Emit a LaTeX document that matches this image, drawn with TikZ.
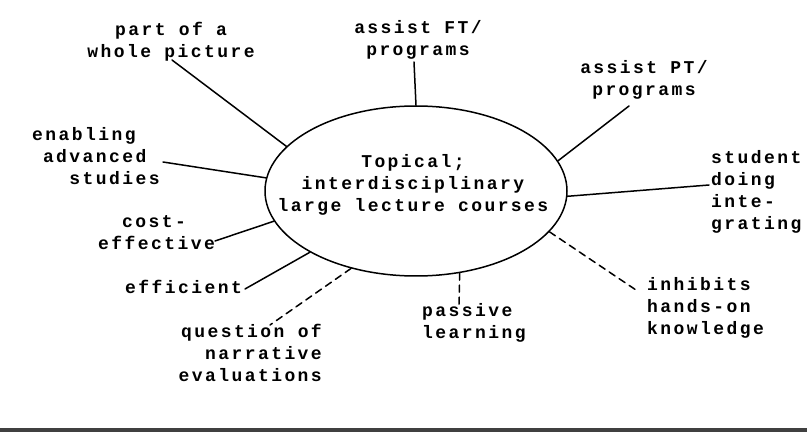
\documentclass[tikz,border=0pt]{standalone}
\usepackage{fontspec}
\newfontfamily\dotfont[LetterSpace=13.5]{Liberation Mono}
\usetikzlibrary{shapes.geometric}

\begin{document}
\begin{tikzpicture}[x=1pt,y=-1pt,line join=round,line cap=round,
	font=\dotfont\bfseries\fontsize{18}{22}\selectfont]
	\tikzset{lbl/.style={inner sep=0pt},
		spoke/.style={line width=1.5pt},
		weak/.style={spoke,dash pattern=on 7pt off 5pt}}
	\def\rx{151} \def\ry{85}
	\useasboundingbox (0,0) rectangle (807,433);
	
	% [Central ellipse]
	\node[draw,ellipse,line width=1.5pt,minimum width=2*\rx,minimum height=2*\ry,inner sep=0pt] (hub) at (416,191) {};
	\node[lbl,align=center] (title) at (413,185) {Topical;\\interdisciplinary\\large lecture courses};
	
	% [Labels]
	\node[lbl,anchor=north,align=center] (part) at (171,22) {part of a\\whole picture};
	\node[lbl,anchor=north,align=center] (ft) at (418,20) {assist FT/\\programs};
	\node[lbl,anchor=north,align=center] (pt) at (644,60) {assist PT/\\programs};
	\node[lbl,anchor=north west,align=left] (student) at (711,150) {student\\doing\\inte-\\grating};
	\node[lbl,anchor=north west,align=left] (enabling) at (32,127) {enabling\\\phantom{x}advanced\\\phantom{xxx}studies};
	\node[lbl,anchor=north west,align=left] (cost) at (98,215) {\phantom{xx}cost-\\effective};
	\node[lbl,anchor=north west] (efficient) at (125,280) {efficient};
	\node[lbl,anchor=north east,align=right] (question) at (322,324) {question of\\narrative\\evaluations};
	\node[lbl,anchor=north west,align=left] (passive) at (422,303) {passive\\learning};
	\node[lbl,anchor=north west,align=left] (inhibits) at (647,277) {inhibits\\hands-on\\knowledge};
	
	% [Free ends of the spokes]
	\coordinate (e-part) at (172,60);
	\coordinate (e-ft) at (414,62);
	\coordinate (e-pt) at (629,106);
	\coordinate (e-student) at (709,185);
	\coordinate (e-enabling) at (163,162);
	\coordinate (e-cost) at (215,241);
	\coordinate (e-efficient) at (245,289);
	\coordinate (e-question) at (270,325);
	\coordinate (e-passive) at (459,305);
	\coordinate (e-inhibits) at (636,290);
	
	% [Spokes]
	\draw[spoke] (hub.161.4) -- (e-part);
	\draw[spoke] (hub.90.5) -- (e-ft);
	\draw[spoke] (hub.12.1) -- (e-pt);
	\draw[spoke] (hub.-2.6) -- (e-student);
	\draw[spoke] (hub.175) -- (e-enabling);
	\draw[spoke] (hub.-168.6) -- (e-cost);
	\draw[spoke] (hub.-150.8) -- (e-efficient);
	\draw[weak] (hub.-130.6) -- (e-question);
	\draw[weak] (hub.-62.3) -- (e-passive);
	\draw[weak] (hub.-17.1) -- (e-inhibits);
	
	% [Rule at the foot]
	\draw[line width=4pt,black!75] (0,430) -- (807,430);
\end{tikzpicture}
\end{document}
